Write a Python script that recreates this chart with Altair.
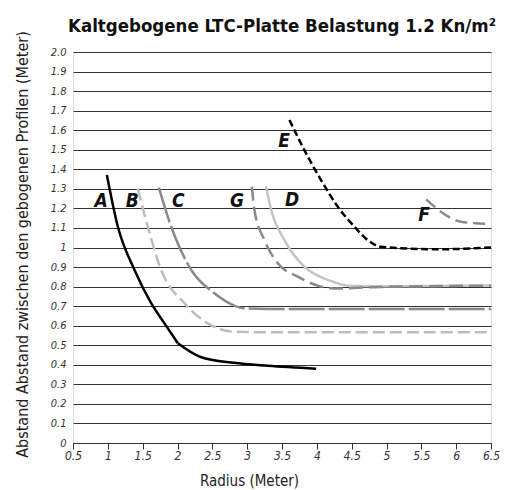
import altair as alt
import pandas as pd

# ---- data ----
A1_x = [0.986, 1.144, 1.383, 1.622, 1.813, 2.005]
A1_y = [1.371, 1.106, 0.885, 0.715, 0.612, 0.51]
A2_x = [2.005, 2.33, 2.81, 3.3, 3.99]
A2_y = [0.51, 0.44, 0.41, 0.395, 0.38]
B_x = [1.43, 1.574, 1.765, 2.10, 2.433, 2.815, 3.2, 6.5]
B_y = [1.30, 1.106, 0.885, 0.715, 0.612, 0.569, 0.567, 0.567]
C_x = [1.732, 1.91, 2.198, 2.53, 2.965, 3.3, 6.5]
C_y = [1.306, 1.106, 0.885, 0.766, 0.689, 0.686, 0.686]
D_x = [3.27, 3.345, 3.535, 3.82, 4.16, 4.49, 5.0, 6.5]
D_y = [1.313, 1.192, 1.038, 0.902, 0.834, 0.803, 0.802, 0.805]
E_x = [3.607, 3.82, 4.06, 4.30, 4.54, 4.73, 4.92, 5.74, 6.5]
E_y = [1.652, 1.499, 1.345, 1.209, 1.106, 1.038, 1.004, 0.991, 1.0]
F_x = [5.57, 5.78, 6.07, 6.5]
F_y = [1.246, 1.183, 1.132, 1.12]
G_x = [3.067, 3.104, 3.248, 3.44, 3.727, 4.06, 4.30, 4.8, 6.5]
G_y = [1.311, 1.192, 1.038, 0.919, 0.851, 0.80, 0.79, 0.797, 0.805]

label_text = ["A", "B", "C", "G", "D", "E", "F"]
label_x = [0.904, 1.35, 2.01, 2.856, 3.645, 3.53, 5.54]
label_y = [1.238, 1.238, 1.238, 1.238, 1.243, 1.545, 1.166]

x_ticks = [0.5, 1, 1.5, 2, 2.5, 3, 3.5, 4, 4.5, 5, 5.5, 6, 6.5]
y_ticks = [round(i * 0.1, 1) for i in range(21)]

FONT = "DejaVu Sans Condensed, Liberation Sans Narrow, Roboto, sans-serif"

xs = alt.Scale(domain=[0.5, 6.5], nice=False, zero=False)
ys = alt.Scale(domain=[0, 2], nice=False)

x_axis = alt.Axis(values=x_ticks, format=".1~f", grid=False, tickSize=6,
                  tickColor="#333", domainColor="#333", labelColor="#333",
                  labelFontStyle="italic", labelFontSize=12, labelFont=FONT,
                  labelPadding=1, labelOverlap=False, labelFlush=False,
                  title="Radius (Meter)", titleFont=FONT,
                  titleFontSize=15, titleFontWeight="normal", titleColor="#222",
                  titleX=176, titleY=37, titleBaseline="middle", titleAlign="center")
y_axis = alt.Axis(values=y_ticks, grid=True, gridColor="#333", gridWidth=1,
                  ticks=False, domain=False, labelColor="#333",
                  labelExpr="datum.value > 1.95 ? '2.0' : format(datum.value, '.1~f')",
                  labelFontStyle="italic", labelFontSize=11, labelFont=FONT,
                  labelPadding=7, labelOverlap=False, labelFlush=False,
                  title="Abstand Abstand zwischen den gebogenen Profilen (Meter)",
                  titleFont=FONT, titleFontSize=16, titleFontWeight="normal",
                  titleColor="#222", titleX=-51, titleY=192, titleBaseline="middle",
                  titleAlign="center", titleAngle=-90)

series = [
    ("A1", A1_x, A1_y, "#000000", []),
    ("A2", A2_x, A2_y, "#000000", []),
    ("B", B_x, B_y, "#bdbdbd", [12, 5]),
    ("C", C_x, C_y, "#8a8a8a", [36, 4]),
    ("D", D_x, D_y, "#c4c4c4", []),
    ("G", G_x, G_y, "#8a8a8a", [14, 6]),
    ("E", E_x, E_y, "#000000", [7, 3.5]),
    ("F", F_x, F_y, "#8a8a8a", [12, 6]),
]

layers = []
for name, sx, sy, col, dash in series:
    df = pd.DataFrame({"x": sx, "y": sy})
    mk = dict(color=col, strokeWidth=2.5, interpolate="monotone")
    if dash:
        mk["strokeDash"] = dash
    enc = dict(x=alt.X("x:Q", scale=xs, axis=x_axis),
               y=alt.Y("y:Q", scale=ys, axis=y_axis))
    layers.append(alt.Chart(df).mark_line(**mk).encode(**enc))

lab_df = pd.DataFrame({"t": label_text, "x": label_x, "y": label_y})
labels = alt.Chart(lab_df).mark_text(font=FONT, fontSize=19, fontWeight="bold",
                                     fontStyle="italic", color="#111",
                                     baseline="middle", align="center").encode(
    x=alt.X("x:Q", scale=xs, axis=x_axis), y=alt.Y("y:Q", scale=ys, axis=y_axis),
    text="t:N")
layers.append(labels)

chart = alt.layer(*layers).properties(
    width=418, height=391,
    title=alt.TitleParams("Kaltgebogene LTC-Platte Belastung 1.2 Kn/m²",
                          font=FONT, fontSize=18.5, fontWeight="bold", color="#111",
                          anchor="middle", frame="group", dx=0, offset=-5),
    autosize=alt.AutoSizeParams(type="none"),
    padding={"left": 65, "top": 44, "right": 11, "bottom": 47},
).configure_view(stroke=None).configure(background="white")

chart.save("out.html", embed_options={"renderer": "svg", "actions": False})
